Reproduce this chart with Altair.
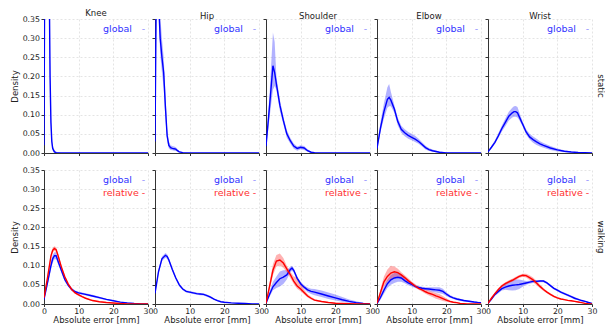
import altair as alt
import pandas as pd

joints = ["Knee", "Hip", "Shoulder", "Elbow", "Wrist"]
conditions = ["static", "walking"]
x_ticks = [0, 10, 20, 30]
y_ticks = [0, 0.05, 0.10, 0.15, 0.20, 0.25, 0.30, 0.35]

# ---------------- static, global ----------------
sk_x = [0, 0.25, 0.5, 1, 1.5, 1.75, 2, 2.25, 2.5, 3, 3.5, 5, 10, 20, 30]
sk_y = [0.02, 0.6, 0.9, 0.9, 0.45, 0.2, 0.08, 0.03, 0.012, 0.003, 0.001, 0, 0, 0, 0]
sk_lo = [0.01, 0.5, 0.8, 0.8, 0.4, 0.17, 0.06, 0.02, 0.006, 0.001, 0, 0, 0, 0, 0]
sk_hi = [0.03, 0.7, 1.0, 1.0, 0.5, 0.24, 0.1, 0.045, 0.02, 0.008, 0.003, 0, 0, 0, 0]

sh_x = [0, 0.25, 0.5, 1, 1.25, 1.5, 2, 2.5, 3, 3.5, 4, 4.5, 5, 5.5, 6, 6.5, 7, 8, 10, 20, 30]
sh_y = [0.03, 0.3, 0.55, 0.45, 0.35, 0.3, 0.25, 0.21, 0.12, 0.045, 0.02, 0.014, 0.012, 0.011, 0.01, 0.006, 0.003, 0.001, 0, 0, 0]
sh_lo = [0.02, 0.25, 0.48, 0.4, 0.31, 0.26, 0.21, 0.17, 0.09, 0.03, 0.012, 0.008, 0.007, 0.006, 0.005, 0.003, 0.001, 0, 0, 0, 0]
sh_hi = [0.04, 0.36, 0.62, 0.52, 0.42, 0.36, 0.3, 0.25, 0.16, 0.065, 0.03, 0.02, 0.018, 0.017, 0.015, 0.01, 0.005, 0.002, 0, 0, 0]

ss_x = [0, 1, 2, 2.5, 3, 4, 5, 6, 7, 8, 9, 10, 11, 12, 13, 14, 16, 20, 30]
ss_y = [0.018, 0.12, 0.228, 0.21, 0.18, 0.125, 0.085, 0.05, 0.032, 0.018, 0.012, 0.015, 0.013, 0.006, 0.002, 0.0005, 0, 0, 0]
ss_lo = [0.012, 0.09, 0.165, 0.175, 0.165, 0.11, 0.075, 0.04, 0.025, 0.011, 0.006, 0.01, 0.008, 0.003, 0.0005, 0, 0, 0, 0]
ss_hi = [0.025, 0.15, 0.315, 0.29, 0.2, 0.14, 0.095, 0.06, 0.04, 0.025, 0.017, 0.02, 0.018, 0.01, 0.004, 0.001, 0, 0, 0]

se_x = [0, 1, 2, 3, 3.5, 4, 5, 6, 7, 8, 9, 10, 11, 12, 13, 14, 15, 16, 18, 20, 30]
se_y = [0.012, 0.065, 0.108, 0.14, 0.145, 0.138, 0.115, 0.082, 0.062, 0.053, 0.046, 0.041, 0.036, 0.03, 0.022, 0.014, 0.009, 0.006, 0.002, 0, 0]
se_lo = [0.008, 0.055, 0.09, 0.118, 0.122, 0.122, 0.105, 0.072, 0.053, 0.044, 0.037, 0.033, 0.029, 0.024, 0.017, 0.009, 0.005, 0.003, 0.0005, 0, 0]
se_hi = [0.018, 0.08, 0.13, 0.172, 0.18, 0.16, 0.125, 0.092, 0.071, 0.062, 0.055, 0.05, 0.045, 0.037, 0.028, 0.019, 0.013, 0.009, 0.004, 0.001, 0]

sw_x = [0, 1, 2, 3, 4, 5, 6, 7, 7.5, 8, 8.5, 9, 10, 11, 12, 13, 14, 15, 16, 18, 20, 22, 24, 26, 28, 30]
sw_y = [0.003, 0.015, 0.028, 0.045, 0.064, 0.08, 0.096, 0.105, 0.108, 0.108, 0.105, 0.095, 0.075, 0.055, 0.042, 0.035, 0.029, 0.024, 0.02, 0.013, 0.008, 0.0045, 0.0025, 0.0012, 0.0005, 0]
sw_lo = [0.002, 0.012, 0.024, 0.039, 0.056, 0.07, 0.085, 0.093, 0.095, 0.095, 0.093, 0.086, 0.069, 0.048, 0.035, 0.027, 0.021, 0.017, 0.014, 0.008, 0.004, 0.002, 0.001, 0.0004, 0, 0]
sw_hi = [0.005, 0.019, 0.033, 0.052, 0.072, 0.09, 0.108, 0.118, 0.122, 0.123, 0.12, 0.107, 0.082, 0.062, 0.05, 0.043, 0.037, 0.031, 0.026, 0.018, 0.012, 0.007, 0.004, 0.0022, 0.001, 0.0002]

# ---------------- walking ----------------
wkg_x = [0, 1, 2, 2.5, 3, 3.5, 4, 5, 6, 7, 8, 9, 10, 11, 12, 14, 16, 18, 20, 22, 24, 26, 28, 30]
wkg_y = [0.012, 0.055, 0.1, 0.118, 0.126, 0.126, 0.113, 0.088, 0.064, 0.049, 0.038, 0.032, 0.029, 0.027, 0.025, 0.021, 0.0165, 0.012, 0.0085, 0.005, 0.0028, 0.0013, 0.0004, 0]
wkg_lo = [0.008, 0.048, 0.09, 0.108, 0.117, 0.117, 0.105, 0.082, 0.059, 0.045, 0.034, 0.029, 0.026, 0.024, 0.022, 0.018, 0.014, 0.01, 0.007, 0.004, 0.002, 0.0008, 0.0002, 0]
wkg_hi = [0.016, 0.062, 0.11, 0.128, 0.135, 0.135, 0.121, 0.094, 0.069, 0.053, 0.042, 0.035, 0.032, 0.03, 0.028, 0.024, 0.019, 0.014, 0.01, 0.006, 0.0036, 0.0018, 0.0007, 0.0001]

wkr_x = [0, 1, 2, 2.5, 3, 3.5, 4, 5, 6, 7, 8, 9, 10, 11, 12, 14, 16, 18, 20, 22, 24, 26, 28, 30]
wkr_y = [0.016, 0.068, 0.125, 0.14, 0.145, 0.142, 0.128, 0.097, 0.071, 0.052, 0.038, 0.029, 0.024, 0.019, 0.015, 0.009, 0.006, 0.004, 0.0025, 0.0012, 0.0004, 0, 0, 0]
wkr_lo = [0.012, 0.062, 0.118, 0.134, 0.139, 0.136, 0.122, 0.092, 0.067, 0.049, 0.035, 0.026, 0.021, 0.017, 0.013, 0.007, 0.0045, 0.003, 0.0015, 0.0006, 0.0001, 0, 0, 0]
wkr_hi = [0.02, 0.074, 0.132, 0.147, 0.151, 0.148, 0.134, 0.102, 0.075, 0.055, 0.041, 0.032, 0.027, 0.021, 0.017, 0.011, 0.0075, 0.005, 0.0035, 0.0018, 0.0008, 0.0002, 0, 0]

whg_x = [0, 1, 2, 3, 3.5, 4, 5, 6, 7, 8, 9, 10, 11, 12, 13, 14, 15, 16, 17, 18, 19, 20, 22, 24, 26, 28, 30]
whg_y = [0.028, 0.084, 0.118, 0.127, 0.124, 0.115, 0.09, 0.068, 0.05, 0.039, 0.033, 0.031, 0.029, 0.027, 0.026, 0.025, 0.022, 0.018, 0.013, 0.009, 0.006, 0.0045, 0.003, 0.002, 0.0012, 0.0004, 0]
whg_lo = [0.024, 0.078, 0.112, 0.121, 0.118, 0.109, 0.085, 0.064, 0.046, 0.036, 0.03, 0.028, 0.026, 0.024, 0.023, 0.022, 0.019, 0.015, 0.011, 0.007, 0.0045, 0.0033, 0.002, 0.0013, 0.0006, 0.0001, 0]
whg_hi = [0.032, 0.09, 0.124, 0.133, 0.13, 0.121, 0.095, 0.072, 0.054, 0.042, 0.036, 0.034, 0.032, 0.03, 0.029, 0.028, 0.025, 0.021, 0.015, 0.011, 0.0075, 0.0057, 0.004, 0.0027, 0.0018, 0.0008, 0.0001]

wsg_x = [0, 1, 2, 3, 4, 5, 6, 7, 7.5, 8, 9, 10, 11, 12, 13, 14, 16, 18, 20, 22, 24, 26, 28, 30]
wsg_y = [0.002, 0.025, 0.045, 0.056, 0.066, 0.07, 0.076, 0.09, 0.094, 0.088, 0.067, 0.053, 0.044, 0.037, 0.033, 0.031, 0.026, 0.021, 0.016, 0.011, 0.007, 0.0035, 0.0015, 0]
wsg_lo = [0.001, 0.018, 0.036, 0.042, 0.046, 0.052, 0.064, 0.082, 0.087, 0.082, 0.062, 0.048, 0.039, 0.031, 0.026, 0.023, 0.018, 0.013, 0.009, 0.006, 0.003, 0.001, 0.0003, 0]
wsg_hi = [0.004, 0.032, 0.058, 0.072, 0.085, 0.088, 0.088, 0.097, 0.1, 0.094, 0.072, 0.058, 0.049, 0.043, 0.04, 0.039, 0.035, 0.03, 0.025, 0.018, 0.012, 0.007, 0.003, 0.0005]

wsr_x = [0, 1, 2, 3, 4, 5, 6, 7, 8, 9, 10, 11, 12, 13, 14, 16, 18, 20, 22, 24, 26, 28, 30]
wsr_y = [0.002, 0.045, 0.088, 0.112, 0.115, 0.107, 0.092, 0.077, 0.06, 0.047, 0.039, 0.03, 0.021, 0.015, 0.01, 0.0065, 0.004, 0.002, 0.0012, 0.0007, 0.0003, 0, 0]
wsr_lo = [0.001, 0.036, 0.075, 0.098, 0.1, 0.095, 0.083, 0.068, 0.052, 0.04, 0.033, 0.025, 0.017, 0.012, 0.008, 0.005, 0.003, 0.0012, 0.0006, 0.0003, 0.0001, 0, 0]
wsr_hi = [0.004, 0.054, 0.104, 0.128, 0.132, 0.12, 0.1, 0.085, 0.072, 0.07, 0.055, 0.037, 0.026, 0.019, 0.013, 0.0085, 0.0055, 0.003, 0.002, 0.0012, 0.0006, 0.0002, 0]

weg_x = list(range(0, 31))
weg_y = [0.001, 0.017, 0.036, 0.053, 0.063, 0.068, 0.07, 0.068, 0.061, 0.055, 0.051, 0.046, 0.043, 0.041, 0.04, 0.039, 0.038, 0.037, 0.036, 0.033, 0.026, 0.02, 0.016, 0.013, 0.011, 0.009, 0.0078, 0.0066, 0.0052, 0.0042, 0.0035]
weg_lo = [0.0, 0.011, 0.027, 0.042, 0.05, 0.055, 0.058, 0.058, 0.054, 0.049, 0.046, 0.042, 0.039, 0.037, 0.036, 0.034, 0.032, 0.03, 0.028, 0.026, 0.021, 0.016, 0.013, 0.01, 0.008, 0.0065, 0.0055, 0.0045, 0.0035, 0.0026, 0.002]
weg_hi = [0.002, 0.023, 0.045, 0.064, 0.076, 0.081, 0.082, 0.078, 0.068, 0.061, 0.056, 0.05, 0.047, 0.045, 0.044, 0.044, 0.044, 0.044, 0.044, 0.04, 0.031, 0.024, 0.019, 0.016, 0.014, 0.0115, 0.01, 0.0087, 0.007, 0.0058, 0.005]

wer_x = list(range(0, 31))
wer_y = [0.002, 0.03, 0.058, 0.072, 0.081, 0.084, 0.082, 0.076, 0.069, 0.061, 0.054, 0.047, 0.041, 0.037, 0.032, 0.028, 0.025, 0.021, 0.018, 0.014, 0.01, 0.007, 0.0045, 0.0035, 0.0015, 0.0008, 0.0003, 0, 0, 0, 0]
wer_lo = [0.001, 0.022, 0.045, 0.058, 0.064, 0.07, 0.072, 0.069, 0.063, 0.056, 0.049, 0.043, 0.037, 0.032, 0.027, 0.022, 0.018, 0.014, 0.011, 0.008, 0.006, 0.004, 0.0025, 0.0018, 0.0007, 0.0003, 0.0001, 0, 0, 0, 0]
wer_hi = [0.003, 0.038, 0.072, 0.09, 0.1, 0.098, 0.092, 0.083, 0.075, 0.067, 0.059, 0.052, 0.045, 0.042, 0.038, 0.035, 0.032, 0.029, 0.026, 0.021, 0.015, 0.01, 0.0065, 0.005, 0.0025, 0.0013, 0.0006, 0.0001, 0, 0, 0]

www_x = list(range(0, 31))
wwg_y = [0.002, 0.013, 0.025, 0.033, 0.04, 0.044, 0.047, 0.049, 0.05, 0.051, 0.053, 0.055, 0.057, 0.059, 0.059, 0.06, 0.06, 0.055, 0.048, 0.041, 0.036, 0.031, 0.027, 0.023, 0.019, 0.015, 0.012, 0.009, 0.007, 0.004, 0.0015]
wwg_lo = [0.001, 0.01, 0.021, 0.028, 0.035, 0.037, 0.036, 0.035, 0.036, 0.039, 0.045, 0.05, 0.053, 0.055, 0.056, 0.057, 0.057, 0.052, 0.045, 0.038, 0.033, 0.028, 0.024, 0.02, 0.016, 0.012, 0.0095, 0.007, 0.0052, 0.0028, 0.0008]
wwg_hi = [0.003, 0.016, 0.029, 0.038, 0.045, 0.052, 0.058, 0.062, 0.064, 0.064, 0.062, 0.06, 0.061, 0.063, 0.063, 0.063, 0.063, 0.058, 0.051, 0.044, 0.039, 0.034, 0.03, 0.026, 0.022, 0.018, 0.0145, 0.011, 0.0088, 0.0052, 0.0022]

wwr_y = [0.002, 0.015, 0.027, 0.038, 0.047, 0.053, 0.058, 0.062, 0.067, 0.072, 0.075, 0.074, 0.069, 0.063, 0.055, 0.046, 0.038, 0.031, 0.025, 0.02, 0.016, 0.013, 0.0115, 0.0095, 0.0085, 0.007, 0.0052, 0.0035, 0.0017, 0.0007, 0]
wwr_lo = [0.001, 0.011, 0.023, 0.034, 0.043, 0.049, 0.054, 0.058, 0.063, 0.068, 0.071, 0.069, 0.063, 0.057, 0.049, 0.041, 0.034, 0.028, 0.022, 0.017, 0.0135, 0.011, 0.0095, 0.0078, 0.0068, 0.0055, 0.004, 0.0025, 0.001, 0.0003, 0]
wwr_hi = [0.003, 0.019, 0.031, 0.042, 0.051, 0.057, 0.062, 0.066, 0.071, 0.076, 0.079, 0.079, 0.075, 0.069, 0.061, 0.051, 0.042, 0.034, 0.028, 0.023, 0.0185, 0.015, 0.0135, 0.0112, 0.0102, 0.0085, 0.0064, 0.0045, 0.0025, 0.0012, 0.0002]

series = [
    ("static", "Knee", "global", sk_x, sk_y, sk_lo, sk_hi),
    ("static", "Hip", "global", sh_x, sh_y, sh_lo, sh_hi),
    ("static", "Shoulder", "global", ss_x, ss_y, ss_lo, ss_hi),
    ("static", "Elbow", "global", se_x, se_y, se_lo, se_hi),
    ("static", "Wrist", "global", sw_x, sw_y, sw_lo, sw_hi),
    ("walking", "Knee", "global", wkg_x, wkg_y, wkg_lo, wkg_hi),
    ("walking", "Knee", "relative", wkr_x, wkr_y, wkr_lo, wkr_hi),
    ("walking", "Hip", "global", whg_x, whg_y, whg_lo, whg_hi),
    ("walking", "Shoulder", "global", wsg_x, wsg_y, wsg_lo, wsg_hi),
    ("walking", "Shoulder", "relative", wsr_x, wsr_y, wsr_lo, wsr_hi),
    ("walking", "Elbow", "global", weg_x, weg_y, weg_lo, weg_hi),
    ("walking", "Elbow", "relative", wer_x, wer_y, wer_lo, wer_hi),
    ("walking", "Wrist", "global", www_x, wwg_y, wwg_lo, wwg_hi),
    ("walking", "Wrist", "relative", www_x, wwr_y, wwr_lo, wwr_hi),
]

rows = []
for cond, joint, name, xs, ys, los, his in series:
    for xv, yv, lv, hv in zip(xs, ys, los, his):
        rows.append(dict(cond=cond, joint=joint, series=name, x=xv, y=yv, lo=lv, hi=hv))
df = pd.DataFrame(rows)

FONT = "DejaVu Sans"
W, H = 104, 134
color = alt.Color("series:N",
                  scale=alt.Scale(domain=["global", "relative"], range=["#0000ff", "#ff0000"]),
                  legend=None)
legend_text_col = {"global": "#3232ff", "relative": "#ff3030"}
legend_dash_col = {"global": "#8c8cff", "relative": "#ff3030"}


def panel(ri, ci):
    cond = conditions[ri]
    joint = joints[ci]
    d = df[(df.cond == cond) & (df.joint == joint)]
    bottom = ri == 1
    left = ci == 0
    xkw = dict(values=x_ticks, labels=bottom, labelFlush=False, labelOverlap=False,
               labelBound=False, format="d", tickSize=2.5, labelPadding=0.5,
               titlePadding=1)
    xkw["title"] = "Absolute error [mm]" if bottom else None
    ykw = dict(values=y_ticks, labels=left, format=".2f", labelOverlap=False,
               labelBound=False, labelFlush=False, tickSize=3)
    ykw["title"] = "Density" if left else None
    xenc = alt.X("x:Q", scale=alt.Scale(domain=[0, 30], nice=False), axis=alt.Axis(**xkw))
    yscale = alt.Scale(domain=[0, 0.35], nice=False)
    base = alt.Chart(d)
    band = base.mark_area(opacity=0.3, clip=True).encode(
        x=xenc,
        y=alt.Y("lo:Q", scale=yscale, axis=alt.Axis(**ykw)),
        y2="hi:Q",
        color=color,
    )
    line = base.mark_line(strokeWidth=1.4, clip=True).encode(
        x=xenc,
        y=alt.Y("y:Q", scale=yscale, axis=alt.Axis(**ykw)),
        color=color,
    )
    layers = [band, line]
    names = ["global"] if cond == "static" else ["global", "relative"]
    ypos = [9.5, 22.5]
    one = alt.Data(values=[{"a": 1}])
    for k, nm in enumerate(names):
        layers.append(alt.Chart(one).mark_text(align="left", baseline="middle", font=FONT,
                                               fontSize=9.5).encode(
            x=alt.value(59), y=alt.value(ypos[k]), text=alt.value(nm),
            color=alt.value(legend_text_col[nm])))
        layers.append(alt.Chart(one).mark_text(align="center", baseline="middle", font=FONT,
                                               fontSize=9.5).encode(
            x=alt.value(99.5), y=alt.value(ypos[k]), text=alt.value("-"),
            color=alt.value(legend_dash_col[nm])))
    if ci == 4:
        layers.append(alt.Chart(one).mark_text(align="center", baseline="middle", font=FONT,
                                               fontSize=8.5, angle=90, color="#222222").encode(
            x=alt.value(W + 9), y=alt.value(H / 2), text=alt.value(cond)))
    ch = alt.layer(*layers).properties(width=W, height=H)
    if ri == 0:
        ch = ch.properties(title=alt.TitleParams(joint, fontSize=8.5, font=FONT, frame="group",
                                                 fontWeight="normal", color="#222222",
                                                 offset=-2))
    return ch


charts = [panel(r, c) for r in range(2) for c in range(5)]

chart = alt.concat(*charts, columns=5, spacing={"row": 17, "column": 7}, bounds="flush").properties(
    padding={"left": 2, "top": 0, "right": 0, "bottom": 0}
).configure_view(stroke=None).configure_axis(
    grid=True, gridDash=[2, 2], gridColor="#dddddd", gridWidth=0.8,
    domainColor="#333333", tickColor="#333333", domainWidth=1,
    labelFont=FONT, labelFontSize=7.8, labelColor="#222222", labelPadding=1.5,
    titleFont=FONT, titleFontSize=8.5, titleColor="#222222", titleFontWeight="normal",
    titlePadding=3,
)

chart.save("out.html", embed_options={"renderer": "svg", "actions": False})
